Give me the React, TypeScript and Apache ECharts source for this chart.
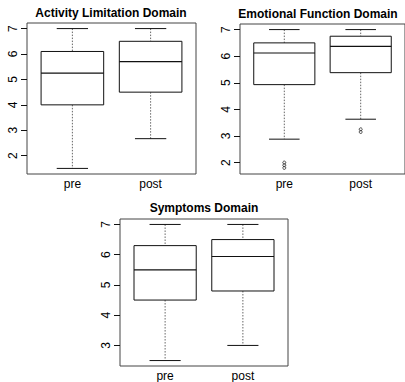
import React, { useEffect, useRef } from "react";
import * as echarts from "echarts";

const categories = ["pre", "post"];
const titles = ["Activity Limitation Domain", "Emotional Function Domain", "Symptoms Domain"];
// [min, Q1, median, Q3, max]
const activityStats = [
  [1.5, 4.0, 5.25, 6.1, 7.0],
  [2.67, 4.5, 5.7, 6.5, 7.0],
];
const emotionalStats = [
  [2.88, 4.93, 6.12, 6.5, 7.0],
  [3.63, 5.38, 6.37, 6.75, 7.0],
];
const symptomsStats = [
  [2.5, 4.5, 5.5, 6.3, 7.0],
  [3.0, 4.8, 5.94, 6.5, 7.0],
];
const emotionalOutliers = [
  [1, 2.0],
  [1, 1.9],
  [1, 1.8],
  [2, 3.25],
  [2, 3.15],
];
const ticks12 = [2, 3, 4, 5, 6, 7];
const ticks3 = [3, 4, 5, 6, 7];

const FONT = "Liberation Sans, Arial, Helvetica, sans-serif";

function renderBox(params: any, api: any) {
  const x = api.value(0);
  const lo = api.value(1);
  const q1 = api.value(2);
  const med = api.value(3);
  const q3 = api.value(4);
  const hi = api.value(5);
  const hw = 0.4;
  const cw = 0.2;
  const tl = api.coord([x - hw, q3]);
  const br = api.coord([x + hw, q1]);
  const mL = api.coord([x - hw, med]);
  const mR = api.coord([x + hw, med]);
  const top = api.coord([x, hi]);
  const q3c = api.coord([x, q3]);
  const q1c = api.coord([x, q1]);
  const bot = api.coord([x, lo]);
  const capTL = api.coord([x - cw, hi]);
  const capTR = api.coord([x + cw, hi]);
  const capBL = api.coord([x - cw, lo]);
  const capBR = api.coord([x + cw, lo]);
  const dash = { stroke: "#666", lineWidth: 1, lineDash: [1.5, 1.5] };
  const solid = { stroke: "#111", lineWidth: 1 };
  return {
    type: "group",
    children: [
      { type: "line", shape: { x1: top[0], y1: top[1], x2: q3c[0], y2: q3c[1] }, style: dash },
      { type: "line", shape: { x1: q1c[0], y1: q1c[1], x2: bot[0], y2: bot[1] }, style: dash },
      { type: "line", shape: { x1: capTL[0], y1: capTL[1], x2: capTR[0], y2: capTR[1] }, style: solid },
      { type: "line", shape: { x1: capBL[0], y1: capBL[1], x2: capBR[0], y2: capBR[1] }, style: solid },
      {
        type: "rect",
        shape: { x: tl[0], y: tl[1], width: br[0] - tl[0], height: br[1] - tl[1] },
        style: { fill: "#fff", stroke: "#111", lineWidth: 1 },
      },
      { type: "line", shape: { x1: mL[0], y1: mL[1], x2: mR[0], y2: mR[1] }, style: { stroke: "#111", lineWidth: 1.2 } },
    ],
  };
}

function xAxisFor(gridIndex: number) {
  return {
    type: "value",
    gridIndex,
    min: 0.42,
    max: 2.58,
    axisLine: { show: false },
    axisTick: { show: false },
    splitLine: { show: false },
    axisLabel: {
      customValues: [1, 2],
      formatter: (v: number) => categories[Math.round(v) - 1] ?? "",
      fontSize: 12,
      color: "#000",
      fontFamily: FONT,
      margin: 4,
    },
  };
}

function yAxisFor(gridIndex: number, min: number, max: number, ticks: number[]) {
  return {
    type: "value",
    gridIndex,
    min,
    max,
    axisLine: { show: false },
    splitLine: { show: false },
    axisTick: { show: true, customValues: ticks, length: 6, lineStyle: { color: "#111", width: 1 } },
    axisLabel: {
      customValues: ticks,
      rotate: 90,
      fontSize: 12,
      color: "#000",
      fontFamily: FONT,
      margin: 8,
    },
  };
}

const toData = (stats: number[][]) => stats.map((s, i) => [i + 1, ...s]);

export default function App() {
  const ref = useRef<HTMLDivElement>(null);
  useEffect(() => {
    if (!ref.current) return;
    const chart = echarts.init(ref.current, null, { renderer: "svg" });
    const gridStyle = { show: true, borderColor: "#444", borderWidth: 1, backgroundColor: "transparent" };
    chart.setOption({
      animation: false,
      backgroundColor: "#fff",
      grid: [
        { left: 27, top: 23, width: 169, height: 151, ...gridStyle },
        { left: 240, top: 24, width: 169, height: 150, ...gridStyle },
        { left: 120, top: 219, width: 168, height: 151, ...gridStyle },
      ],
      xAxis: [xAxisFor(0), xAxisFor(1), xAxisFor(2)],
      yAxis: [
        yAxisFor(0, 1.28, 7.22, ticks12),
        yAxisFor(1, 1.57, 7.21, ticks12),
        yAxisFor(2, 2.32, 7.18, ticks3),
      ],
      graphic: [
        { type: "text", x: 111, y: 13, style: { text: titles[0], font: `bold 12px ${FONT}`, fill: "#000", textAlign: "center", textVerticalAlign: "middle" } },
        { type: "text", x: 318, y: 14, style: { text: titles[1], font: `bold 12px ${FONT}`, fill: "#000", textAlign: "center", textVerticalAlign: "middle" } },
        { type: "text", x: 204, y: 208, style: { text: titles[2], font: `bold 12px ${FONT}`, fill: "#000", textAlign: "center", textVerticalAlign: "middle" } },
      ],
      series: [
        { type: "custom", xAxisIndex: 0, yAxisIndex: 0, renderItem: renderBox, data: toData(activityStats), encode: { x: 0, y: [1, 2, 3, 4, 5] } },
        { type: "custom", xAxisIndex: 1, yAxisIndex: 1, renderItem: renderBox, data: toData(emotionalStats), encode: { x: 0, y: [1, 2, 3, 4, 5] } },
        { type: "custom", xAxisIndex: 2, yAxisIndex: 2, renderItem: renderBox, data: toData(symptomsStats), encode: { x: 0, y: [1, 2, 3, 4, 5] } },
        {
          type: "scatter",
          xAxisIndex: 1,
          yAxisIndex: 1,
          data: emotionalOutliers,
          symbol: "circle",
          symbolSize: 3,
          itemStyle: { color: "transparent", borderColor: "#222", borderWidth: 1 },
        },
      ],
    });
    return () => chart.dispose();
  }, []);
  return <div ref={ref} style={{ position: "absolute", left: 0, top: 0, width: 405, height: 382 }} />;
}
